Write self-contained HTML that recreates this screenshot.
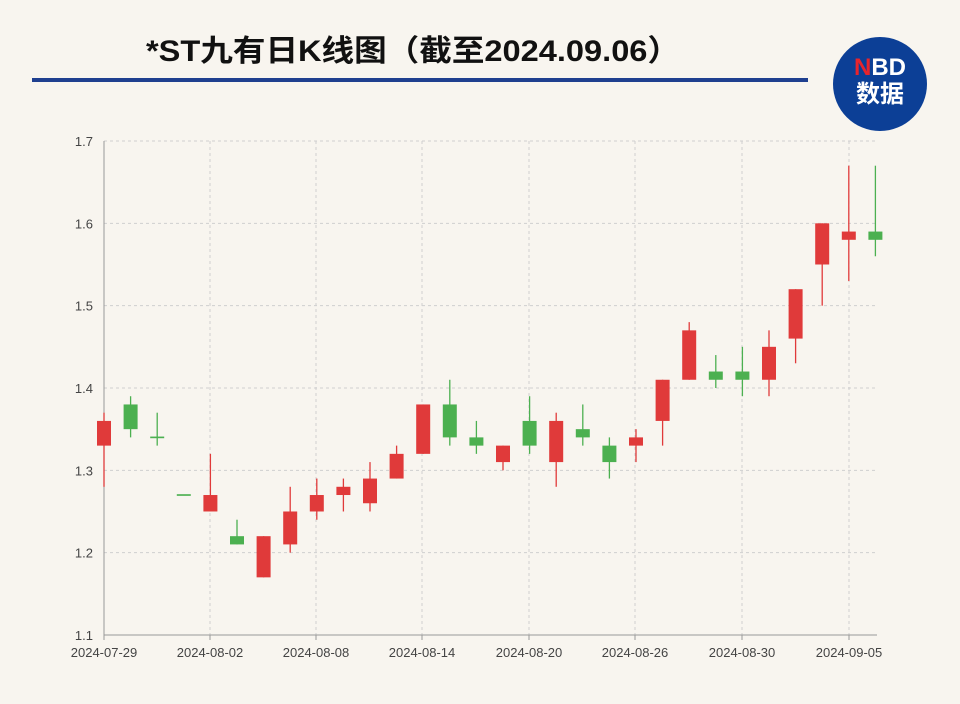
<!DOCTYPE html>
<html><head><meta charset="utf-8"><style>
body{margin:0;background:#f8f5ef;width:960px;height:704px;overflow:hidden;font-family:"Liberation Sans","Noto Sans CJK SC",sans-serif}
</style></head><body>
<svg id="s" width="960" height="704" xmlns="http://www.w3.org/2000/svg" style="position:absolute;left:0;top:0">
<rect width="960" height="704" fill="#f8f5ef"/>
<text x="146" y="61" font-size="30" font-weight="bold" fill="#111" textLength="534" lengthAdjust="spacingAndGlyphs" font-family="Liberation Sans,Noto Sans CJK SC,sans-serif">*ST九有日K线图（截至2024.09.06）</text>
<rect x="32" y="78" width="776" height="4" fill="#1f3f8f"/>
<circle cx="880" cy="84" r="47" fill="#0c3f96"/>
<text x="880" y="75" text-anchor="middle" font-size="24" font-weight="bold" fill="#fff"><tspan fill="#e8242c">N</tspan>BD</text>
<text x="880" y="102" text-anchor="middle" font-size="24" font-weight="bold" fill="#fff" font-family="Noto Sans CJK SC,sans-serif">数据</text>
<g id="g"></g>
</svg>
<script>
var g=document.getElementById('g'),h='';
function Y(v){return 141+(1.7-v)*823.3;}
var xs=[104,210,316,422,529,635,742,849],lb=['2024-07-29','2024-08-02','2024-08-08','2024-08-14','2024-08-20','2024-08-26','2024-08-30','2024-09-05'];
for(var i=0;i<7;i++){var v=1.1+i*0.1,y=Y(v);
 if(i>0)h+='<line x1="104" x2="877" y1="'+y+'" y2="'+y+'" stroke="#cfcfcf" stroke-dasharray="3,3"/>';
 h+='<text x="93" y="'+(y+5)+'" text-anchor="end" font-size="13" fill="#444">'+v.toFixed(1)+'</text>';}
xs.forEach(function(x,i){if(i>0)h+='<line x1="'+x+'" x2="'+x+'" y1="141" y2="635" stroke="#cfcfcf" stroke-dasharray="3,3"/>';
 h+='<line x1="'+x+'" x2="'+x+'" y1="635" y2="640" stroke="#999"/>';
 h+='<text x="'+x+'" y="657" text-anchor="middle" font-size="13" fill="#444">'+lb[i]+'</text>';});
h+='<line x1="104" x2="104" y1="141" y2="635" stroke="#999"/><line x1="104" x2="877" y1="635" y2="635" stroke="#999"/>';
var d=[[1.33,1.36,1.28,1.37],[1.38,1.35,1.34,1.39],[1.341,1.339,1.33,1.37],[1.271,1.269,1.27,1.27],[1.25,1.27,1.25,1.32],[1.22,1.21,1.21,1.24],[1.17,1.22,1.17,1.22],[1.21,1.25,1.20,1.28],[1.25,1.27,1.24,1.29],[1.27,1.28,1.25,1.29],[1.26,1.29,1.25,1.31],[1.29,1.32,1.29,1.33],[1.32,1.38,1.32,1.38],[1.38,1.34,1.33,1.41],[1.34,1.33,1.32,1.36],[1.31,1.33,1.30,1.33],[1.36,1.33,1.32,1.39],[1.31,1.36,1.28,1.37],[1.35,1.34,1.33,1.38],[1.33,1.31,1.29,1.34],[1.33,1.34,1.31,1.35],[1.36,1.41,1.33,1.41],[1.41,1.47,1.41,1.48],[1.42,1.41,1.40,1.44],[1.42,1.41,1.39,1.45],[1.41,1.45,1.39,1.47],[1.46,1.52,1.43,1.52],[1.55,1.60,1.50,1.60],[1.58,1.59,1.53,1.67],[1.59,1.58,1.56,1.67]];
d.forEach(function(c,i){var x=104+i*26.6,up=c[1]>=c[0],col=up?'#e03a3a':'#4cb050';
 var t=Y(Math.max(c[0],c[1])),b=Y(Math.min(c[0],c[1]));if(b-t<1.5)b=t+1.5;
 h+='<line x1="'+x+'" x2="'+x+'" y1="'+Y(c[3])+'" y2="'+Y(c[2])+'" stroke="'+col+'" stroke-width="1.3"/>';
 h+='<rect x="'+(x-7)+'" y="'+t+'" width="14" height="'+(b-t)+'" fill="'+col+'"/>';});
g.innerHTML=h;
</script>
</body></html>
